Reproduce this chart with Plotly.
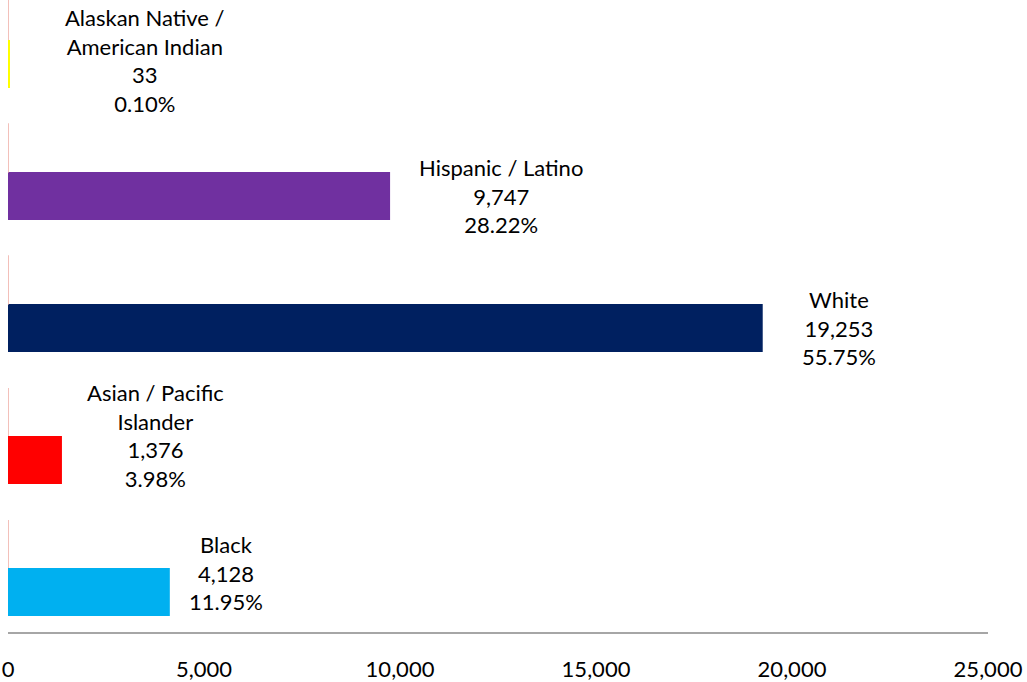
import plotly.graph_objects as go

# Data (bottom to top)
categories = ["Black", "Asian / Pacific Islander", "White", "Hispanic / Latino", "Alaskan Native / American Indian"]
label_names = ["Black", "Asian / Pacific<br>Islander", "White", "Hispanic / Latino", "Alaskan Native /<br>American Indian"]
counts = [4128, 1376, 19253, 9747, 33]
percents = [11.95, 3.98, 55.75, 28.22, 0.10]
tick_vals = [0, 5000, 10000, 15000, 20000, 25000]
tick_text = ["0", "5,000", "10,000", "15,000", "20,000", "25,000"]

# Styles
bar_colors = ["#00B0F0", "#FF0000", "#002060", "#7030A0", "#FFFF00"]
pct_color = "#F0ACA4"
label_xshift = [56, 94, 76, 111, 136]
label_yshift = [-5, 0, -24, -24, -21]
FONT = "Lato, 'Open Sans', sans-serif"
FSIZE = 22

fig = go.Figure()
fig.add_trace(go.Bar(
    y=categories, x=counts, orientation="h",
    marker=dict(color=bar_colors, line=dict(width=0)),
    width=0.3636, offset=-0.3636, hoverinfo="skip", showlegend=False,
))
fig.add_trace(go.Bar(
    y=categories, x=[p / 100 for p in percents], orientation="h",
    marker=dict(color=pct_color, line=dict(color=pct_color, width=1.5)),
    width=0.3636, offset=0, hoverinfo="skip", showlegend=False,
))

for i, cat in enumerate(categories):
    fig.add_annotation(
        x=counts[i], y=cat, xref="x", yref="y",
        text=f"{label_names[i]}<br>{counts[i]:,}<br>{percents[i]:.2f}%",
        showarrow=False, xanchor="center", yanchor="middle", align="center",
        xshift=label_xshift[i], yshift=label_yshift[i],
        font=dict(family=FONT, size=FSIZE, color="#000000"),
    )

fig.update_layout(
    width=1027, height=682, autosize=False,
    margin=dict(l=8, r=39, t=0, b=50, pad=0),
    paper_bgcolor="white", plot_bgcolor="white",
    barmode="overlay",
    font=dict(family=FONT, size=FSIZE, color="#000000"),
    xaxis=dict(
        range=[0, 25000], tickvals=tick_vals, ticktext=tick_text,
        showgrid=False, zeroline=False, showline=True,
        linecolor="#A6A6A6", linewidth=1.5, ticks="", ticklabelstandoff=17,
        tickfont=dict(family=FONT, size=FSIZE, color="#000000"),
        fixedrange=True,
    ),
    yaxis=dict(
        type="category", categoryorder="array", categoryarray=categories,
        range=[-0.485, 4.303], showticklabels=False, showgrid=False,
        zeroline=False, showline=False, ticks="", fixedrange=True,
    ),
)

fig.write_html("out.html", config={"displayModeBar": False},
               post_script="document.body.style.margin='0';document.body.style.overflow='hidden';")
